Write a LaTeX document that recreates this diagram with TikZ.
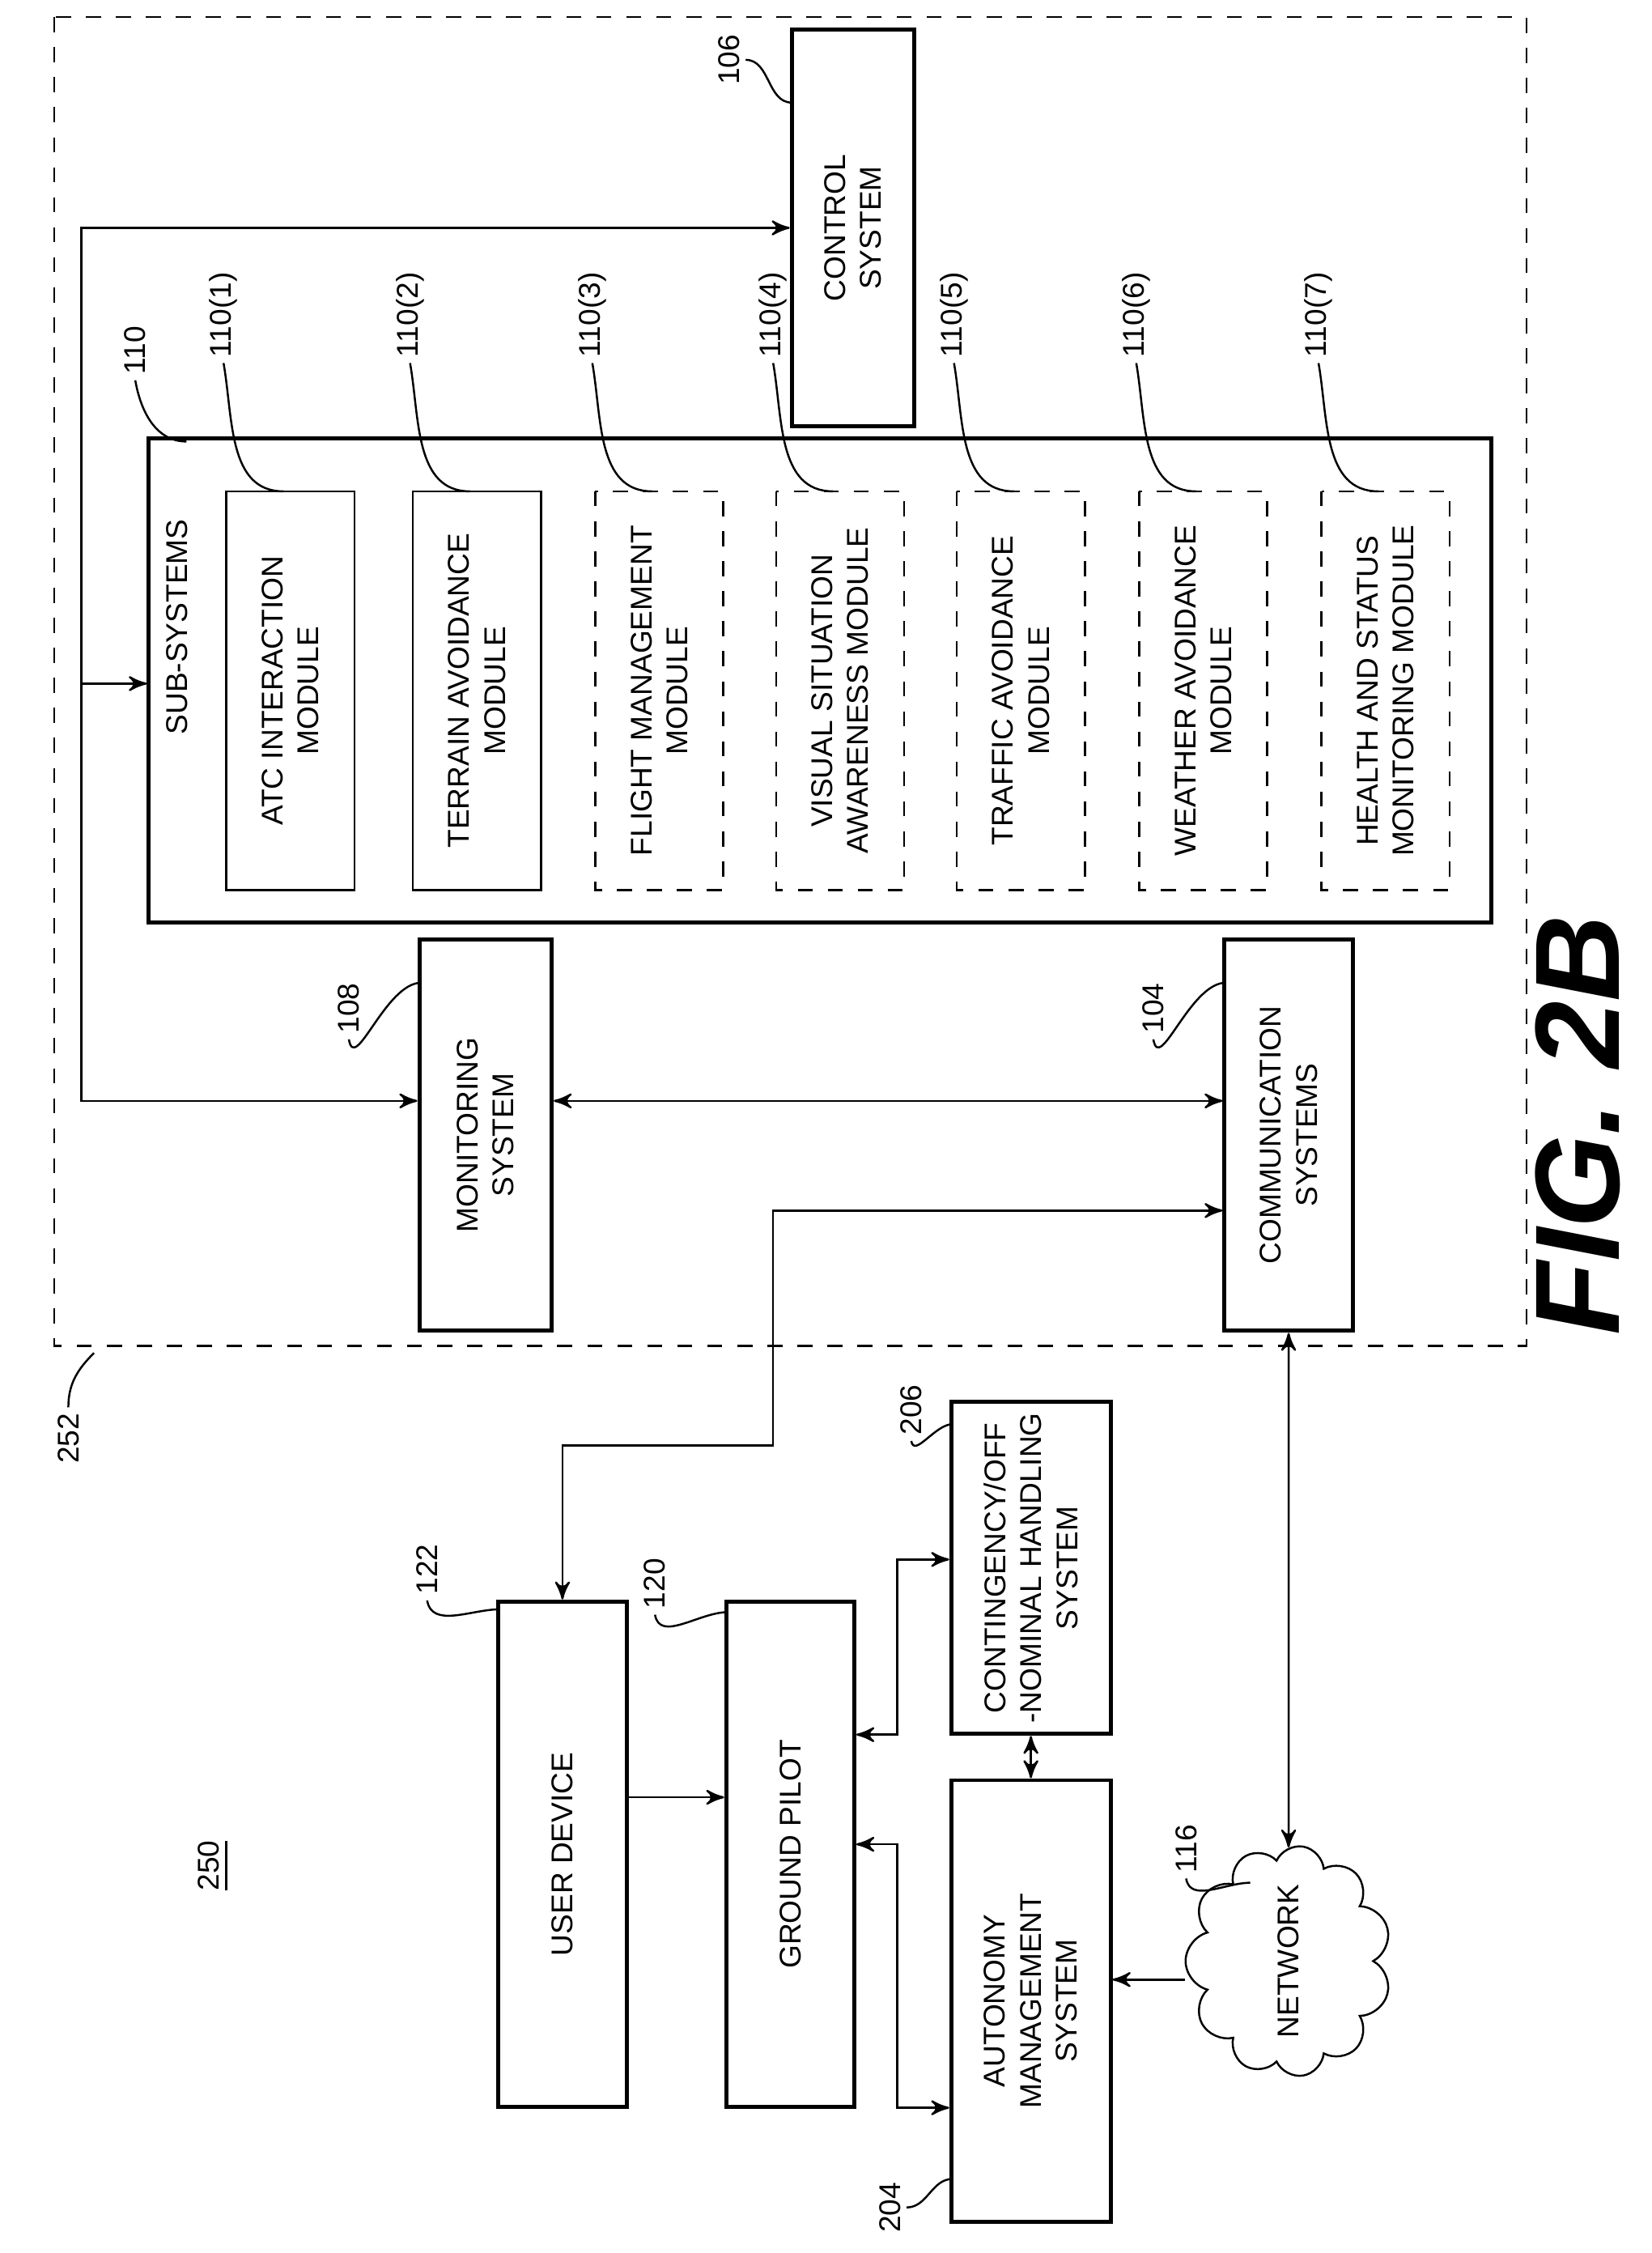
\documentclass[tikz,border=0pt]{standalone}
\usepackage{fontspec}
\setmainfont{Liberation Sans}
\usetikzlibrary{arrows,shapes,shapes.symbols,calc}

\begin{document}
\begin{tikzpicture}[x=0.1mm,y=-0.1mm,>=stealth',font=\fontsize{6}{7.2}\selectfont]
  \tikzstyle{block}=[rectangle,draw,thick,rotate=90,align=center,inner sep=1pt]
  \tikzstyle{module}=[block,thin,minimum width=28mm,minimum height=9mm]
  \tikzstyle{dmodule}=[module,dashed]
  \tikzstyle{num}=[rotate=90,inner sep=1pt]
  \tikzstyle{lead}=[thin]
  \tikzstyle{link}=[thin,<->]

    \useasboundingbox (0,0) rectangle (1160,1582);
    \draw[dashed] (38,12) rectangle (1072,945); %252
    \node [num] (n252) at (48,1010) {252};
    \draw[lead] (n252.east) to[out=90,in=-135] (66,950);

    \node [block,minimum width=27.9mm,minimum height=8.6mm] (ctrl) at (599,160) {CONTROL\\SYSTEM}; %106
    \node [num] (n106) at (512,42) {106};
    \draw[lead] (n106.south) to[out=0,in=180] (556,72);

    \node [block,minimum width=34mm,minimum height=94.3mm] (sub) at (576,478) {}; %110
    \node [num,anchor=south west] (subt) at (136,520) {SUB-SYSTEMS};
    \node [num] (n110) at (95,246) {110};
    \draw[lead] (n110.west) to[out=-80,in=180] (131,310);

    \node [module] (atc) at (204,485) {ATC INTERACTION\\MODULE};
    \node [module] (ter) at (335,485) {TERRAIN AVOIDANCE\\MODULE};
    \node [dmodule] (flt) at (463,485) {FLIGHT MANAGEMENT\\MODULE};
    \node [dmodule] (vis) at (590,485) {VISUAL SITUATION\\AWARENESS MODULE};
    \node [dmodule] (trf) at (717,485) {TRAFFIC AVOIDANCE\\MODULE};
    \node [dmodule] (wth) at (845,485) {WEATHER AVOIDANCE\\MODULE};
    \node [dmodule] (hlt) at (973,485) {HEALTH AND STATUS\\MONITORING MODULE};
    \foreach \m/\x/\i in {atc/204/1,ter/335/2,flt/463/3,vis/590/4,trf/717/5,wth/845/6,hlt/973/7}{
      \node [num] (n\m) at (\x-47,221) {110(\i)};
      \draw[lead] (n\m.west) to[out=-80,in=180] (\x-5,345);
    }

    \node [block,minimum width=27.5mm,minimum height=9.3mm] (mon) at (341,797) {MONITORING\\SYSTEM}; %108
    \node [num] (n108) at (245,708) {108};
    \draw[lead] (n108.west) to[out=-80,in=180] (296,690);
    \node [block,minimum width=27.5mm,minimum height=9mm] (com) at (905,797) {COMMUNICATION\\SYSTEMS}; %104
    \node [num] (n104) at (810,708) {104};
    \draw[lead] (n104.west) to[out=-80,in=180] (861,690);

    \node [block,minimum width=35.5mm,minimum height=9mm] (usr) at (395,1302) {USER DEVICE}; %122
    \node [num] (n122) at (300,1102) {122};
    \draw[lead] (n122.west) to[out=-80,in=180] (351,1130);
    \node [block,minimum width=35.5mm,minimum height=9mm] (gnd) at (555,1302) {GROUND PILOT}; %120
    \node [num] (n120) at (460,1112) {120};
    \draw[lead] (n120.west) to[out=-80,in=180] (511,1132);
    \node [block,minimum width=23.3mm,minimum height=11.2mm] (cnt) at (724,1101) {CONTINGENCY/OFF\\-NOMINAL HANDLING\\SYSTEM}; %206
    \node [num] (n206) at (640,990) {206};
    \draw[lead] (n206.west) to[out=-80,in=180] (669,1000);
    \node [block,minimum width=31mm,minimum height=11.2mm] (aut) at (724,1405) {AUTONOMY\\MANAGEMENT\\SYSTEM}; %204
    \node [num] (n204) at (625,1550) {204};
    \draw[lead] (n204.south) to[out=0,in=180] (669,1530);
    \node [cloud,draw,thin,cloud puffs=11,aspect=1.2,rotate=90,minimum width=10.5mm,minimum height=8.5mm,inner sep=-1pt] (net) at (905,1377) {NETWORK}; %116
    \node [num] (n116) at (833,1298) {116};
    \draw[lead] (n116.west) to[out=-80,in=180] (878,1322);
    \node [num] (n250) at (150,1310) {\underline{250}};

    \node [rotate=90,font=\fontsize{24}{24}\bfseries\itshape\selectfont] (fig) at (1108,790) {FIG. 2B};

    % connectors
    \coordinate (bus) at (57,160);
    \draw[<->] (ctrl.north |- bus) -- (bus) -- (57,773) -- (mon.north |- 0,773);
    \draw[->] (57,480) -- (sub.north |- 0,480);
    \draw[link] (mon.south |- 0,773) -- (com.north |- 0,773);
    \draw[link] (com.north |- 0,850) -- (543,850) -- (543,1015) -- (395,1015) -- (usr.east);
    \draw[link] (com.west) -- (net.east);
    \draw[->] (usr.south |- 0,1262) -- (gnd.north |- 0,1262);
    \draw[link] (gnd.south |- 0,1218) -- (630,1218) -- (630,1095) -- (cnt.north |- 0,1095);
    \draw[link] (gnd.south |- 0,1295) -- (630,1295) -- (630,1480) -- (aut.north |- 0,1480);
    \draw[link] (cnt.west) -- (aut.east);
    \draw[->] (net.north |- 0,1390) -- (aut.south |- 0,1390);
\end{tikzpicture}
\end{document}
